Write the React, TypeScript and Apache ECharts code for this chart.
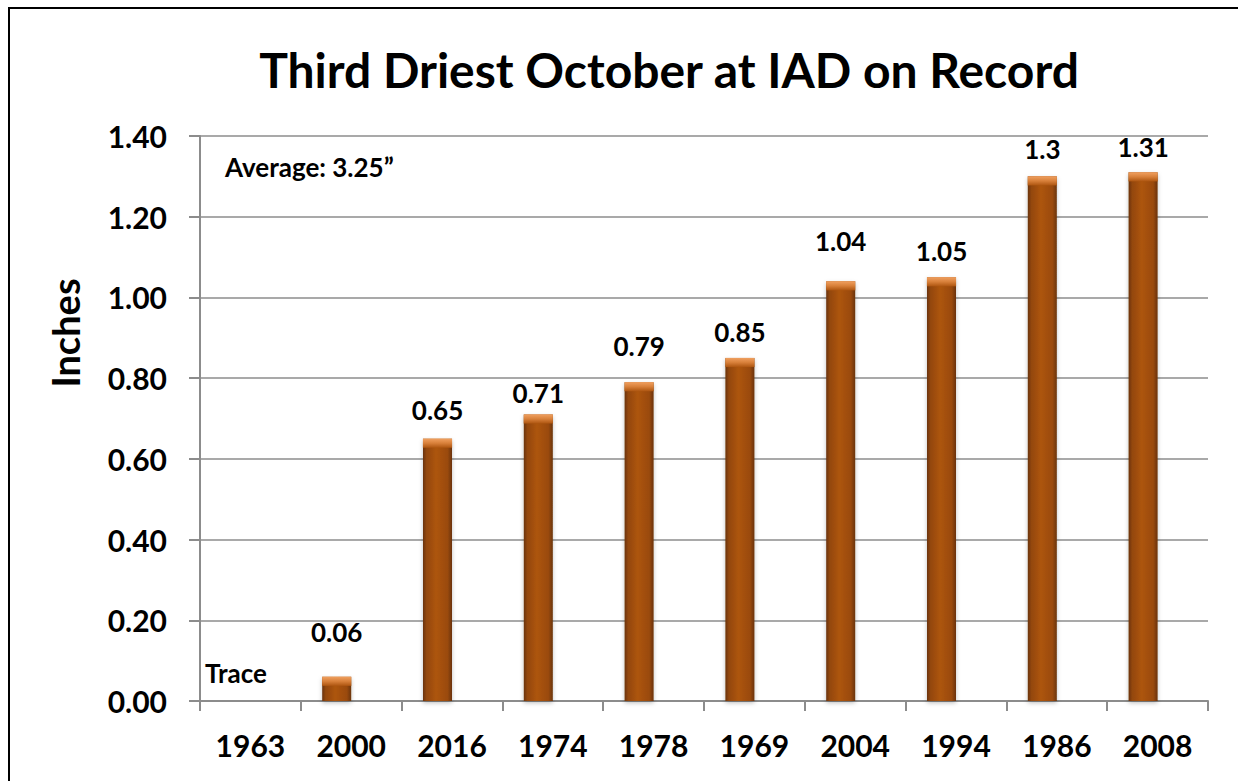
import React, { useEffect, useRef } from "react";
import * as echarts from "echarts";

const years = ["1963", "2000", "2016", "1974", "1978", "1969", "2004", "1994", "1986", "2008"];
const inches = [0, 0.06, 0.65, 0.71, 0.79, 0.85, 1.04, 1.05, 1.3, 1.31];
const valueLabels = ["Trace", "0.06", "0.65", "0.71", "0.79", "0.85", "1.04", "1.05", "1.3", "1.31"];
const labelGaps = [17, 34, 18, 10, 25, 15, 29, 15, 16, 14];
const yTicks = { min: 0, max: 1.4, interval: 0.2 };
const titleText = "Third Driest October at IAD on Record";
const noteText = "Average: 3.25\u201d";
const yName = "Inches";

const FONT = "Lato, 'Open Sans', sans-serif";

export default function App() {
  const ref = useRef<HTMLDivElement>(null);
  useEffect(() => {
    document.body.style.overflow = "hidden";
    const chart = echarts.init(ref.current!, null, { renderer: "svg" });
    const barColor = new echarts.graphic.LinearGradient(0, 0, 1, 0, [
      { offset: 0, color: "#6a3308" },
      { offset: 0.12, color: "#93470c" },
      { offset: 0.45, color: "#ad5510" },
      { offset: 0.85, color: "#9a4a0d" },
      { offset: 1, color: "#6a3308" },
    ]);
    const capColor = new echarts.graphic.LinearGradient(0, 0, 0, 1, [
      { offset: 0, color: "#f0a060" },
      { offset: 0.5, color: "#d8803a" },
      { offset: 1, color: "#ad5510" },
    ]);
    chart.setOption({
      animation: false,
      backgroundColor: "#ffffff",
      title: {
        text: titleText,
        left: 664,
        top: 40,
        textAlign: "center",
        textStyle: { fontFamily: FONT, fontWeight: "bold", fontSize: 48, color: "#000" },
      },
      grid: { left: 200, right: 30, top: 136, bottom: 80 },
      xAxis: {
        type: "category",
        data: years,
        axisLine: { lineStyle: { color: "#8c8c8c", width: 2 } },
        axisTick: { show: true, length: 10, lineStyle: { color: "#8c8c8c", width: 2 } },
        axisLabel: {
          margin: 29,
          fontFamily: FONT,
          fontWeight: "bold",
          fontSize: 30,
          color: "#000",
        },
      },
      yAxis: {
        type: "value",
        min: yTicks.min,
        max: yTicks.max,
        interval: yTicks.interval,
        axisLine: { show: true, lineStyle: { color: "#8c8c8c", width: 2 } },
        axisTick: { show: true, length: 11, lineStyle: { color: "#8c8c8c", width: 2 } },
        splitLine: { show: true, lineStyle: { color: "#8c8c8c", width: 1.5 } },
        axisLabel: {
          margin: 33,
          fontFamily: FONT,
          fontWeight: "bold",
          fontSize: 30,
          color: "#000",
          formatter: (v: number) => v.toFixed(2),
        },
      },
      series: [
        {
          type: "bar",
          barWidth: 29,
          barGap: "0%",
          itemStyle: { color: barColor, shadowColor: "rgba(0,0,0,0.25)", shadowBlur: 4, shadowOffsetY: 2 },
          label: {
            show: true,
            position: "top",
            fontFamily: FONT,
            fontWeight: "bold",
            fontSize: 26,
            color: "#000",
          },
          data: inches.map((v, i) => ({
            value: v,
            label: { formatter: valueLabels[i], distance: labelGaps[i] - 2 },
          })),
        },
        {
          type: "bar",
          barWidth: 29,
          silent: true,
          data: inches.map(() => null),
        },
        {
          type: "pictorialBar",
          silent: true,
          symbol: "rect",
          symbolSize: [29, 9],
          symbolPosition: "end",
          symbolOffset: [-14.5, 0],
          itemStyle: { color: capColor },
          z: 3,
          data: inches.map((v) => (v > 0 ? v : null)),
        },
      ],
      graphic: [
        {
          type: "rect",
          shape: { x: 9, y: 8, width: 1250, height: 800 },
          style: { fill: "none", stroke: "#000", lineWidth: 2 },
          silent: true,
        },
        {
          type: "text",
          x: 225,
          y: 154,
          style: { text: noteText, fontFamily: FONT, fontWeight: "bold", fontSize: 26, fill: "#000" },
        },
        {
          type: "text",
          x: 65,
          y: 333,
          rotation: Math.PI / 2,
          style: {
            text: yName,
            fontFamily: FONT,
            fontWeight: "bold",
            fontSize: 38,
            fill: "#000",
            align: "center",
            verticalAlign: "middle",
          },
        },
      ],
    });
    return () => chart.dispose();
  }, []);
  return <div ref={ref} style={{ position: "fixed", left: 0, top: 0, width: 1238, height: 781 }} />;
}
